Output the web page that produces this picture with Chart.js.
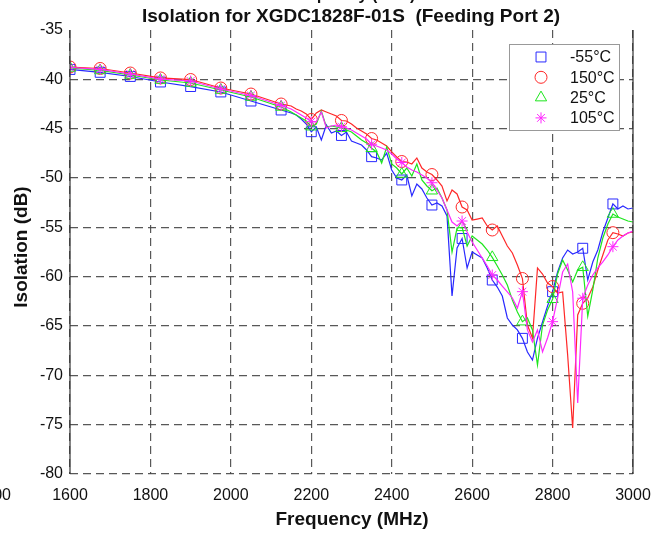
<!DOCTYPE html>
<html>
<head>
<meta charset="utf-8">
<title>Isolation for XGDC1828F-01S (Feeding Port 2)</title>
<script src="https://cdn.jsdelivr.net/npm/chart.js@4.4.1/dist/chart.umd.min.js"></script>
<style>
  html, body { margin: 0; padding: 0; background: #fff; }
  canvas { display: block; }
</style>
</head>
<body>
<canvas id="isoChart" width="666" height="533"></canvas>
<script>
// 频率点 (MHz)
const freqs = [
  1600, 1675, 1750, 1825, 1900, 1975, 2050, 2125,
  2150, 2162.5, 2175, 2187.5, 2200, 2212.5, 2225, 2237.5, 2250, 2262.5,
  2275, 2287.5, 2300, 2312.5, 2325, 2337.5, 2350, 2362.5, 2375, 2387.5,
  2400, 2412.5, 2425, 2437.5, 2450, 2462.5, 2475, 2487.5, 2500, 2512.5,
  2525, 2537.5, 2550, 2562.5, 2575, 2587.5, 2600, 2612.5, 2625, 2637.5,
  2650, 2662.5, 2675, 2687.5, 2700, 2712.5, 2725, 2737.5, 2750, 2762.5,
  2775, 2787.5, 2800, 2812.5, 2825, 2837.5, 2850, 2862.5, 2875, 2887.5,
  2900, 2912.5, 2925, 2937.5, 2950, 2962.5, 2975, 2987.5, 3000
];

// 隔离度 (dB)，各温度
const isoM55 = [
  -39.0, -39.29, -39.71, -40.27, -40.73, -41.28, -42.2, -43.11,
  -43.41, -43.61, -44.02, -44.53, -45.31, -44.83, -46.15, -44.63, -45.44, -45.24,
  -45.69, -45.34, -46.25, -46.45, -46.66, -47.16, -47.84, -47.97, -48.18, -47.47,
  -49.19, -50.0, -50.2, -49.7, -51.82, -50.61, -51.11, -52.03, -52.74, -52.53,
  -52.84, -53.85, -61.96, -57.09, -56.13, -59.12, -57.5, -57.8, -58.11, -59.12,
  -60.34, -61.05, -61.96, -64.19, -64.9, -65.4, -66.25, -67.63, -68.45, -66.22,
  -64.59, -62.97, -61.52, -59.53, -58.11, -57.3, -57.7, -57.5, -57.12, -60.34,
  -58.51, -57.3, -55.47, -54.05, -52.63, -53.14, -52.84, -53.14, -53.04
];
const iso150 = [
  -38.75, -38.9, -39.36, -39.86, -40.02, -40.88, -41.49, -42.5,
  -42.7, -43.01, -43.21, -43.51, -44.07, -43.41, -43.11, -43.31, -43.51, -43.72,
  -44.17, -44.22, -44.53, -44.93, -45.24, -45.54, -46.0, -46.15, -46.45, -46.76,
  -47.36, -47.87, -48.33, -48.38, -48.58, -47.97, -48.99, -49.39, -49.65, -50.2,
  -50.81, -52.33, -51.22, -51.62, -52.94, -53.24, -54.26, -54.16, -54.05, -54.86,
  -55.27, -54.86, -55.88, -56.89, -57.6, -58.82, -60.19, -64.9, -66.22, -59.12,
  -59.73, -60.64, -61.0, -61.66, -61.55, -67.94, -75.34, -63.88, -62.7, -62.16,
  -61.05, -59.32, -57.8, -56.28, -55.54, -55.68, -55.88, -55.57, -55.47
];
const iso25 = [
  -38.85, -39.1, -39.56, -40.07, -40.37, -41.08, -41.79, -42.8,
  -43.31, -43.61, -43.92, -44.22, -44.8, -44.53, -43.21, -44.83, -44.73, -44.83,
  -44.96, -45.14, -45.34, -45.74, -46.15, -46.45, -46.99, -47.36, -48.48, -46.86,
  -48.58, -48.99, -49.59, -48.99, -49.8, -48.58, -50.2, -50.81, -51.29, -51.01,
  -52.03, -53.24, -57.5, -55.07, -55.0, -56.89, -55.88, -56.28, -56.69, -57.3,
  -58.04, -58.92, -59.83, -60.84, -62.36, -63.58, -64.56, -64.19, -65.4, -68.95,
  -64.9, -63.38, -62.29, -59.73, -58.31, -59.32, -60.54, -59.32, -59.05, -63.99,
  -61.35, -58.11, -56.08, -54.66, -53.65, -53.95, -54.16, -54.36, -54.46
];
const iso105 = [
  -38.8, -39.0, -39.46, -39.97, -40.17, -40.98, -41.64, -42.65,
  -43.01, -43.31, -43.61, -43.92, -44.29, -44.32, -43.31, -44.93, -44.73, -44.63,
  -44.8, -44.93, -45.14, -45.44, -45.74, -46.05, -46.58, -46.76, -46.96, -47.16,
  -47.57, -48.07, -48.43, -48.88, -49.19, -49.39, -49.7, -50.0, -50.48, -51.22,
  -52.03, -53.24, -54.46, -54.86, -54.36, -55.47, -56.49, -57.3, -58.11, -58.92,
  -59.83, -60.34, -60.95, -61.55, -62.16, -63.18, -61.52, -65.4, -66.62, -65.4,
  -67.63, -66.22, -64.56, -62.16, -59.53, -58.72, -61.55, -72.8, -62.19, -60.84,
  -59.83, -59.12, -58.51, -57.8, -56.96, -56.28, -55.88, -55.57, -55.37
];

// 坐标轴刻度
const xTicks = [1600, 1800, 2000, 2200, 2400, 2600, 2800, 3000];
const yTicks = [-35, -40, -45, -50, -55, -60, -65, -70, -75, -80];

const FONT = '"Liberation Sans", Arial, sans-serif';
const GRID = 'rgba(70,70,70,0.9)';

// 每条曲线的样式
const series = [
  { label: '-55°C', values: isoM55, color: 'rgb(40,40,255)', marker: 'rect', radius: 7 },
  { label: '150°C', values: iso150, color: 'rgb(255,40,40)', marker: 'circle', radius: 6 },
  { label: '25°C', values: iso25, color: 'rgb(30,230,30)', marker: 'triangle', radius: 6.5 },
  { label: '105°C', values: iso105, color: 'rgb(255,40,255)', marker: 'star', radius: 5.5 }
];

// 标记点每 75 MHz 一个
function markerPoints(values) {
  return freqs
    .map((f, i) => ({ x: f, y: values[i] }))
    .filter((p) => (p.x - 1600) % 75 === 0);
}

const datasets = [];
series.forEach((s, k) => {
  datasets.push({
    label: s.label,
    data: freqs.map((f, i) => ({ x: f, y: s.values[i] })),
    showLine: true,
    borderColor: s.color,
    borderWidth: 1.2,
    pointRadius: 0,
    tension: 0,
    fill: false,
    order: 10 - k
  });
  datasets.push({
    label: s.label + ' marker',
    data: markerPoints(s.values),
    showLine: false,
    pointStyle: s.marker,
    pointRadius: s.radius,
    pointBorderWidth: 1,
    pointBorderColor: s.color,
    pointBackgroundColor: 'rgba(0,0,0,0)',
    order: 10 - k
  });
});

function drawMarker(ctx, style, r, x, y) {
  ctx.beginPath();
  if (style === 'rect') {
    const h = r * Math.SQRT1_2;
    ctx.rect(x - h, y - h, 2 * h, 2 * h);
  } else if (style === 'circle') {
    ctx.arc(x, y, r, 0, Math.PI * 2);
  } else if (style === 'triangle') {
    ctx.moveTo(x, y - r);
    ctx.lineTo(x + r * Math.sin(Math.PI / 3), y + r * 0.5);
    ctx.lineTo(x - r * Math.sin(Math.PI / 3), y + r * 0.5);
    ctx.closePath();
  } else {
    for (let a = 0; a < 4; a++) {
      const t = (a * Math.PI) / 4;
      ctx.moveTo(x - r * Math.cos(t), y - r * Math.sin(t));
      ctx.lineTo(x + r * Math.cos(t), y + r * Math.sin(t));
    }
  }
  ctx.stroke();
}

// 边框、标题和图例
const decorations = {
  id: 'decorations',
  afterDraw(chart) {
    const { ctx, chartArea: a } = chart;
    ctx.save();

    ctx.strokeStyle = '#333';
    ctx.lineWidth = 1.2;
    ctx.beginPath();
    ctx.moveTo(a.left, a.top);
    ctx.lineTo(a.left, a.bottom);
    ctx.moveTo(a.right, a.top);
    ctx.lineTo(a.right, a.bottom);
    ctx.stroke();

    ctx.fillStyle = '#111';
    ctx.textAlign = 'center';
    ctx.textBaseline = 'alphabetic';
    ctx.font = 'bold 16px ' + FONT;
    ctx.fillText('Frequency (MHz)', 351, 0);
    ctx.font = 'bold 19px ' + FONT;
    ctx.textBaseline = 'middle';
    ctx.fillText('Isolation for XGDC1828F-01S  (Feeding Port 2)', 351, 17);

    ctx.font = 'bold 19px ' + FONT;
    ctx.fillText('Frequency (MHz)', 352, 520);
    ctx.save();
    ctx.translate(22, 247);
    ctx.rotate(-Math.PI / 2);
    ctx.fillText('Isolation (dB)', 0, 0);
    ctx.restore();

    ctx.font = '16px ' + FONT;
    ctx.textAlign = 'right';
    ctx.fillText('00', 11, 496);

    // 图例
    const box = { x: 509, y: 44, w: 110, h: 86 };
    ctx.fillStyle = '#fff';
    ctx.fillRect(box.x, box.y, box.w, box.h);
    ctx.strokeStyle = '#999';
    ctx.lineWidth = 1;
    ctx.strokeRect(box.x + 0.5, box.y + 0.5, box.w, box.h);
    ctx.textAlign = 'left';
    ctx.font = '16px ' + FONT;
    series.forEach((s, i) => {
      const y = 57 + i * 20.3;
      ctx.strokeStyle = s.color;
      ctx.lineWidth = 1;
      drawMarker(ctx, s.marker, s.radius, 541, y);
      ctx.fillStyle = '#111';
      ctx.fillText(s.label, 570, y + 1);
    });

    ctx.restore();
  }
};

Chart.defaults.font.family = FONT;

new Chart(document.getElementById('isoChart'), {
  type: 'scatter',
  data: { datasets: datasets },
  options: {
    responsive: false,
    animation: false,
    events: [],
    devicePixelRatio: 1,
    layout: { padding: { left: 0, right: 33, top: 30, bottom: 0 } },
    plugins: {
      legend: { display: false },
      tooltip: { enabled: false },
      title: { display: false }
    },
    scales: {
      x: {
        type: 'linear',
        min: 1600,
        max: 3000,
        afterBuildTicks: (axis) => { axis.ticks = xTicks.map((v) => ({ value: v })); },
        afterFit: (axis) => { axis.height = 59; },
        grid: { color: GRID, lineWidth: 1.2, drawTicks: false },
        border: { display: false, dash: [8, 5] },
        ticks: {
          padding: 12, color: '#111', font: { size: 16 }, maxRotation: 0, autoSkip: false,
          callback: (v) => String(v)
        }
      },
      y: {
        type: 'linear',
        min: -80,
        max: -35,
        afterBuildTicks: (axis) => { axis.ticks = yTicks.map((v) => ({ value: v })); },
        afterFit: (axis) => { axis.width = 70; },
        grid: {
          color: (c) => (c.tick && c.tick.value === -35 ? 'rgba(0,0,0,0)' : GRID),
          lineWidth: 1.2,
          drawTicks: false
        },
        border: { display: false, dash: [8, 5] },
        ticks: { padding: 7, color: '#111', font: { size: 16 }, callback: (v) => String(v) }
      }
    }
  },
  plugins: [decorations]
});
</script>
</body>
</html>
